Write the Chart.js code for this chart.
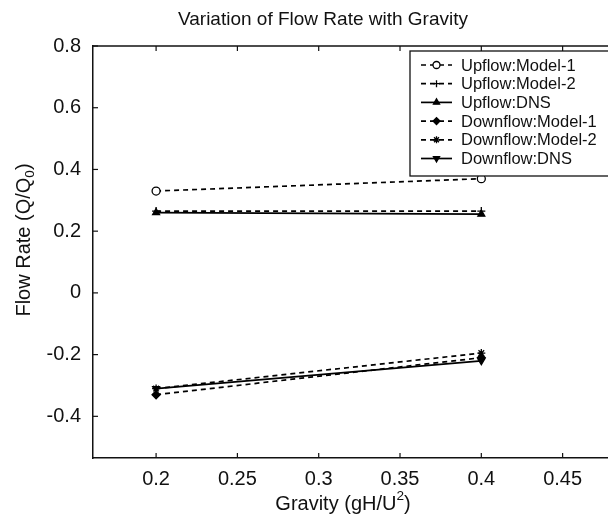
<!DOCTYPE html>
<html>
<head>
<meta charset="utf-8">
<script src="https://cdn.jsdelivr.net/npm/chart.js@4/dist/chart.umd.min.js"></script>
<style>
  html, body { margin: 0; padding: 0; background: #fff; overflow: hidden; }
  #wrap { width: 608px; height: 520px; overflow: hidden; }
</style>
</head>
<body>
<div id="wrap"><canvas id="flowChart" width="625" height="520"></canvas></div>
<script>
// data
var gravity = [0.2, 0.4];
var upModel1 = [0.33, 0.37];
var upModel2 = [0.265, 0.265];
var upDNS = [0.26, 0.255];
var downModel1 = [-0.33, -0.21];
var downModel2 = [-0.31, -0.195];
var downDNS = [-0.31, -0.22];
var xTicks = [0.2, 0.25, 0.3, 0.35, 0.4, 0.45];
var yTicks = [-0.4, -0.2, 0, 0.2, 0.4, 0.6, 0.8];
var seriesNames = ['Upflow:Model-1', 'Upflow:Model-2', 'Upflow:DNS', 'Downflow:Model-1', 'Downflow:Model-2', 'Downflow:DNS'];

var FONT = 'Arial, "Liberation Sans", sans-serif';

function pts(ys) {
  return gravity.map(function (g, i) { return { x: g, y: ys[i] }; });
}

function series(name, ys, style, dashed, rot, fill) {
  return {
    label: name,
    data: pts(ys),
    borderColor: '#000',
    borderWidth: 1.7,
    borderDash: dashed ? [5, 4] : [],
    pointStyle: style,
    pointRotation: rot || 0,
    pointRadius: 4,
    pointBorderWidth: 1.3,
    pointBorderColor: '#000',
    pointBackgroundColor: fill,
    showLine: true,
    fill: false
  };
}

var datasets = [
  series(seriesNames[0], upModel1, 'circle', true, 0, '#fff'),
  series(seriesNames[1], upModel2, 'cross', true, 0, '#000'),
  series(seriesNames[2], upDNS, 'triangle', false, 0, '#000'),
  series(seriesNames[3], downModel1, 'rectRot', true, 0, '#000'),
  series(seriesNames[4], downModel2, 'star', true, 0, '#000'),
  series(seriesNames[5], downDNS, 'triangle', false, 180, '#000')
];

// text with a small raised / lowered piece
function drawScriptText(ctx, parts, cx, cy, size) {
  var total = 0;
  parts.forEach(function (p) {
    ctx.font = (p.s ? size * 0.68 : size) + 'px ' + FONT;
    p.w = ctx.measureText(p.t).width;
    total += p.w;
  });
  var x = cx - total / 2;
  ctx.textBaseline = 'middle';
  ctx.textAlign = 'left';
  parts.forEach(function (p) {
    ctx.font = (p.s ? size * 0.68 : size) + 'px ' + FONT;
    var dy = p.s === 'sup' ? -size * 0.38 : (p.s === 'sub' ? size * 0.3 : 0);
    ctx.fillText(p.t, x, cy + dy);
    x += p.w;
  });
}

var decorPlugin = {
  id: 'decor',
  afterDraw: function (chart) {
    var ctx = chart.ctx;
    var a = chart.chartArea;
    var xs = chart.scales.x, ys = chart.scales.y;
    ctx.save();
    ctx.strokeStyle = '#111';
    ctx.lineWidth = 1.5;
    // top border
    ctx.beginPath();
    ctx.moveTo(a.left, a.top);
    ctx.lineTo(a.right + 20, a.top);
    ctx.stroke();
    // inward ticks
    ctx.lineWidth = 1.2;
    xTicks.forEach(function (t) {
      var px = xs.getPixelForValue(t);
      ctx.beginPath();
      ctx.moveTo(px, a.bottom); ctx.lineTo(px, a.bottom - 5);
      ctx.moveTo(px, a.top); ctx.lineTo(px, a.top + 5);
      ctx.stroke();
    });
    yTicks.forEach(function (t) {
      var py = ys.getPixelForValue(t);
      ctx.beginPath();
      ctx.moveTo(a.left, py); ctx.lineTo(a.left + 5, py);
      ctx.stroke();
    });

    ctx.fillStyle = '#111';
    // title
    ctx.font = '19px ' + FONT;
    ctx.textAlign = 'center';
    ctx.textBaseline = 'middle';
    ctx.fillText('Variation of Flow Rate with Gravity', 323, 20);
    // x title
    drawScriptText(ctx, [{ t: 'Gravity (gH/U' }, { t: '2', s: 'sup' }, { t: ')' }], 343, 504, 20);
    // y title
    ctx.save();
    ctx.translate(24, 240);
    ctx.rotate(-Math.PI / 2);
    drawScriptText(ctx, [{ t: 'Flow Rate (Q/Q' }, { t: '0', s: 'sub' }, { t: ')' }], 0, 0, 20);
    ctx.restore();

    // legend
    var lx = 410, ly = 51, lh = 125;
    ctx.fillStyle = '#fff';
    ctx.fillRect(lx, ly, 230, lh);
    ctx.strokeStyle = '#111';
    ctx.lineWidth = 1.3;
    ctx.strokeRect(lx, ly, 230, lh);
    datasets.forEach(function (ds, i) {
      var y = 65 + i * 18.7;
      ctx.strokeStyle = '#000';
      ctx.lineWidth = 1.7;
      ctx.setLineDash(ds.borderDash);
      ctx.beginPath();
      ctx.moveTo(421, y); ctx.lineTo(452, y);
      ctx.stroke();
      ctx.setLineDash([]);
      ctx.fillStyle = ds.pointBackgroundColor;
      ctx.lineWidth = ds.pointBorderWidth;
      if (Chart.helpers && Chart.helpers.drawPoint) {
        Chart.helpers.drawPoint(ctx, { pointStyle: ds.pointStyle, rotation: ds.pointRotation, radius: 3.5, borderWidth: ds.pointBorderWidth }, 436.5, y);
      }
      ctx.fillStyle = '#111';
      ctx.font = '16.5px ' + FONT;
      ctx.textAlign = 'left';
      ctx.textBaseline = 'middle';
      ctx.fillText(ds.label, 461, y + 1);
    });
    ctx.restore();
  }
};

var chart = new Chart(document.getElementById('flowChart'), {
  type: 'scatter',
  data: { datasets: datasets },
  options: {
    responsive: false,
    animation: false,
    layout: { padding: { left: 0, right: 0, top: 46, bottom: 0 } },
    plugins: { legend: { display: false }, tooltip: { enabled: false }, title: { display: false } },
    scales: {
      x: {
        type: 'linear',
        min: 0.1612,
        max: 0.4851,
        afterBuildTicks: function (s) { s.ticks = xTicks.map(function (v) { return { value: v }; }); },
        afterFit: function (s) { s.height = 62; },
        grid: { display: false },
        border: { display: true, color: '#111', width: 1.5 },
        ticks: {
          color: '#111',
          font: { family: FONT, size: 20 },
          padding: 1,
          maxRotation: 0,
          autoSkip: false,
          callback: function (v) { return String(+v.toFixed(2)); }
        }
      },
      y: {
        type: 'linear',
        min: -0.535,
        max: 0.8,
        afterBuildTicks: function (s) { s.ticks = yTicks.map(function (v) { return { value: v }; }); },
        afterFit: function (s) { s.width = 93; },
        grid: { display: false },
        border: { display: true, color: '#111', width: 1.5 },
        ticks: {
          color: '#111',
          font: { family: FONT, size: 20 },
          padding: 4,
          autoSkip: false,
          callback: function (v) { return String(+v.toFixed(1)); }
        }
      }
    }
  },
  plugins: [decorPlugin]
});
</script>
</body>
</html>
